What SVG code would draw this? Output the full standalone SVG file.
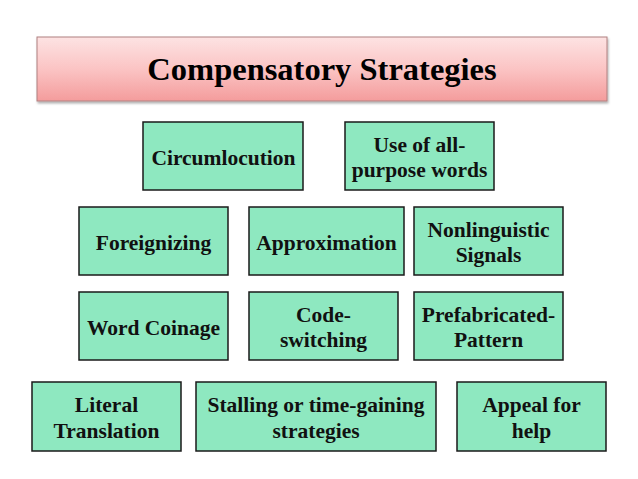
<svg xmlns="http://www.w3.org/2000/svg" width="638" height="479" viewBox="0 0 638 479">
<defs>
<linearGradient id="pink" x1="0" y1="0" x2="0" y2="1">
<stop offset="0" stop-color="#fde3e3"/>
<stop offset="0.5" stop-color="#fbc4c4"/>
<stop offset="1" stop-color="#f49c9c"/>
</linearGradient>
<filter id="sh" x="-5%" y="-10%" width="110%" height="130%">
<feDropShadow dx="1" dy="2" stdDeviation="1.2" flood-color="#000" flood-opacity="0.3"/>
</filter>
</defs>
<style>
.box{fill:#8ee8c0;stroke:#1a1a1a;stroke-width:1.5}
.t{font-family:"Liberation Serif","Times New Roman",serif;font-weight:bold;font-size:21.5px;fill:#111;text-anchor:middle}
.title{font-family:"Liberation Serif","Times New Roman",serif;font-weight:bold;font-size:32.5px;fill:#000;text-anchor:middle}
</style>
<rect width="638" height="479" fill="#fff"/>
<g id="title">
<rect x="37" y="37" width="570" height="64" fill="url(#pink)" stroke="#b08080" stroke-width="1" filter="url(#sh)"/>
<text class="title" x="322" y="80">Compensatory Strategies</text>
</g>
<g id="circumlocution">
<rect class="box" x="143" y="122" width="160" height="68"/>
<text class="t" x="223.5" y="165">Circumlocution</text>
</g>
<g id="all-purpose">
<rect class="box" x="345" y="122" width="149" height="68"/>
<text class="t" x="419.5" y="152">Use of all-</text>
<text class="t" x="419.5" y="177">purpose words</text>
</g>
<g id="foreignizing">
<rect class="box" x="79" y="207" width="149" height="68"/>
<text class="t" x="153.5" y="250">Foreignizing</text>
</g>
<g id="approximation">
<rect class="box" x="249" y="207" width="155" height="68"/>
<text class="t" x="326.5" y="250">Approximation</text>
</g>
<g id="nonlinguistic">
<rect class="box" x="414" y="207" width="149" height="68"/>
<text class="t" x="488.5" y="237">Nonlinguistic</text>
<text class="t" x="488.5" y="262">Signals</text>
</g>
<g id="word-coinage">
<rect class="box" x="79" y="292" width="149" height="68"/>
<text class="t" x="153.5" y="335">Word Coinage</text>
</g>
<g id="code-switching">
<rect class="box" x="249" y="292" width="149" height="68"/>
<text class="t" x="323.5" y="322">Code-</text>
<text class="t" x="323.5" y="347">switching</text>
</g>
<g id="prefabricated">
<rect class="box" x="414" y="292" width="149" height="68"/>
<text class="t" x="488.5" y="322">Prefabricated-</text>
<text class="t" x="488.5" y="347">Pattern</text>
</g>
<g id="literal-translation">
<rect class="box" x="32" y="382" width="149" height="69"/>
<text class="t" x="106.5" y="412">Literal</text>
<text class="t" x="106.5" y="438">Translation</text>
</g>
<g id="stalling">
<rect class="box" x="196" y="382" width="240" height="69"/>
<text class="t" x="316" y="412">Stalling or time-gaining</text>
<text class="t" x="316" y="438">strategies</text>
</g>
<g id="appeal">
<rect class="box" x="457" y="382" width="149" height="69"/>
<text class="t" x="531.5" y="412">Appeal for</text>
<text class="t" x="531.5" y="438">help</text>
</g>
<g id="connectors"/>
</svg>
